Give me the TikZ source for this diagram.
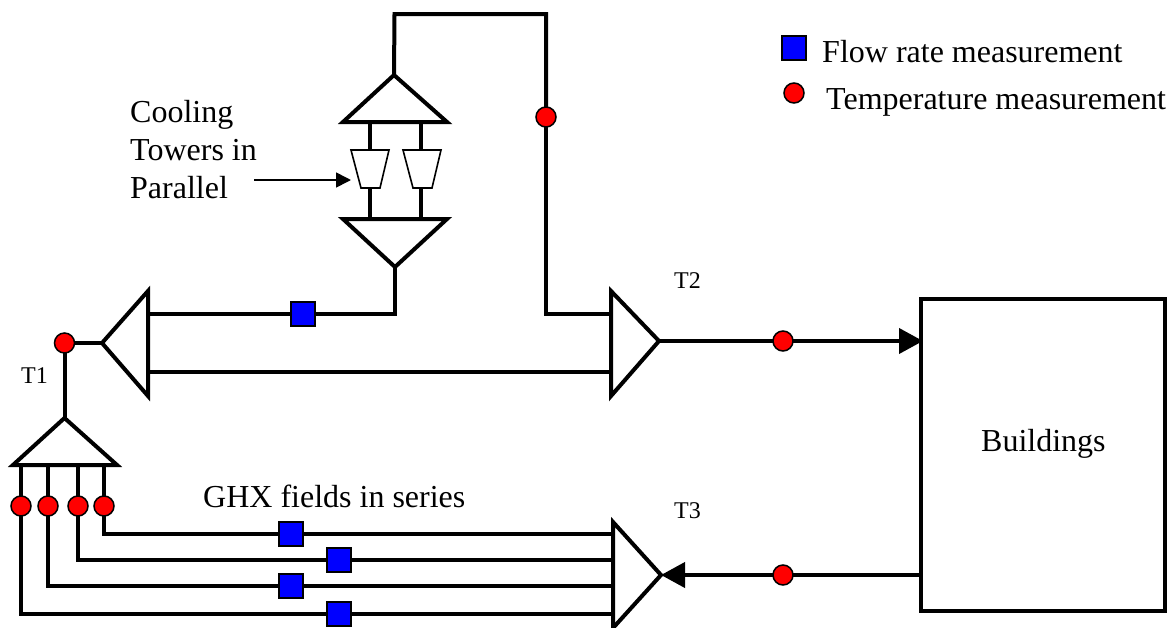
\documentclass[tikz,border=0pt]{standalone}
\usepackage{fontspec}
\setmainfont{Liberation Serif}
\usetikzlibrary{arrows.meta}
\tikzset{
  pipe/.style={line width=4pt, miter limit=20},
  thinpipe/.style={line width=1.6pt},
  flow/.style={draw=black, fill=blue, line width=1.5pt, minimum size=24pt, inner sep=0pt, outer sep=0pt},
  temp/.style={circle, draw=black, fill=red, line width=1.5pt, minimum size=20pt, inner sep=0pt, outer sep=0pt},
  bigarrow/.style={-{Triangle[length=24pt, width=25pt]}},
  bigtext/.style={font=\fontsize{32}{38}\selectfont, inner sep=0pt, anchor=base west},
  smalltext/.style={font=\fontsize{24}{28}\selectfont, inner sep=0pt, anchor=base west}
}
\begin{document}
\begin{tikzpicture}[x=1pt, y=-1pt, >=stealth]
  \useasboundingbox (0,0) rectangle (1173,627);

  % Legend
  \node[flow] (legflow) at (794,48) {};
  \node[temp] (legtemp) at (794,93) {};
  \node[bigtext] (legflowtext) at (822,62) {Flow rate measurement};
  \node[bigtext] (legtemptext) at (826,109) {Temperature measurement};

  % Labels
  \node[bigtext] (coolingtext) at (130,122) {Cooling};
  \node[bigtext] (towerstext) at (130,160) {Towers in};
  \node[bigtext] (paralleltext) at (130,198) {Parallel};
  \node[bigtext] (ghxtext) at (203,507) {GHX fields in series};
  \node[smalltext] (tone) at (21,383) {T1};
  \node[smalltext] (ttwo) at (674,288) {T2};
  \node[smalltext] (tthree) at (674,518) {T3};

  % Buildings
  \node[draw, line width=4pt, minimum width=244pt, minimum height=312pt, inner sep=0pt, outer sep=0pt] (buildings) at (1043,455) {};
  \node[bigtext] (buildingstext) at (981,451) {Buildings};

  % Splitters and mixers
  \coordinate (toptip) at (394,75);
  \coordinate (lowtip) at (395,267);
  \coordinate (lefttip) at (102,343);
  \coordinate (ghxtip) at (64.5,418);
  \coordinate (ttwotip) at (659,341);
  \coordinate (tthreetip) at (661,575);
  \draw[pipe] (toptip) -- (343,122) -- (447,122) -- cycle;
  \draw[pipe] (lowtip) -- (343,219) -- (447,219) -- cycle;
  \draw[pipe] (lefttip) -- (148,291) -- (148,396) -- cycle;
  \draw[pipe] (ghxtip) -- (13,465) -- (117,465) -- cycle;
  \draw[pipe] (ttwotip) -- (611,291) -- (611,396) -- cycle;
  \draw[pipe] (tthreetip) -- (613,522) -- (613,628) -- cycle;

  % Cooling towers
  \draw[thinpipe] (351,150) -- (389,150) -- (380,188) -- (361,188) -- cycle;
  \draw[thinpipe] (403,150) -- (441,150) -- (432,188) -- (413,188) -- cycle;
  \draw[pipe] (370,122) -- (370,150);
  \draw[pipe] (370,188) -- (370,219);
  \draw[pipe] (421,122) -- (421,150);
  \draw[pipe] (421,188) -- (421,219);

  % Pointer to the towers
  \coordinate (pointer) at (254,180);
  \coordinate (pointertip) at (351,180);
  \draw[thinpipe, -{Triangle[length=15pt, width=15pt]}] (pointer) -- (pointertip);

  % Measurements
  \node[temp] (toptemp) at (546,117) {};
  \node[flow] (lowflow) at (303,314) {};
  \node[temp] (tonetemp) at (64.5,343) {};
  \node[temp] (supply) at (783,341) {};
  \node[temp] (return) at (783,575) {};
  \node[temp] (ghxA) at (21,506) {};
  \node[temp] (ghxB) at (48,506) {};
  \node[temp] (ghxC) at (78,506) {};
  \node[temp] (ghxD) at (104,506) {};
  \node[flow] (fieldD) at (291,534) {};
  \node[flow] (fieldC) at (339,560) {};
  \node[flow] (fieldB) at (291,586) {};
  \node[flow] (fieldA) at (339,614) {};

  % Tower loop
  \coordinate (topleft) at (394.5,14);
  \coordinate (topright) at (546,14);
  \coordinate (ttwoin) at (611,314);
  \coordinate (lowcorner) at (395,314);
  \coordinate (leftin) at (148,314);
  \coordinate (leftback) at (148,372);
  \coordinate (ttwoback) at (611,372);
  \draw[pipe] (toptip) -- (topleft) -- (topright) -- (toptemp);
  \draw[pipe] (toptemp) |- (ttwoin);
  \draw[pipe] (lowtip) -- (lowcorner) -- (lowflow);
  \draw[pipe] (lowflow) -- (leftin);
  \draw[pipe] (leftback) -- (ttwoback);
  \draw[pipe] (lefttip) -- (tonetemp);
  \draw[pipe] (tonetemp) -- (ghxtip);

  % Buildings loop
  \draw[pipe] (ttwotip) -- (supply);
  \draw[pipe, bigarrow, shorten >=-2pt] (supply) -- (buildings.west |- supply);
  \draw[pipe] (buildings.west |- return) -- (return);
  \draw[pipe, bigarrow] (return) -- (tthreetip);

  % GHX fields
  \draw[pipe] (ghxA |- 0,465) -- (ghxA);
  \draw[pipe] (ghxB |- 0,465) -- (ghxB);
  \draw[pipe] (ghxC |- 0,465) -- (ghxC);
  \draw[pipe] (ghxD |- 0,465) -- (ghxD);
  \draw[pipe] (ghxD) |- (fieldD);
  \draw[pipe] (ghxC) |- (fieldC);
  \draw[pipe] (ghxB) |- (fieldB);
  \draw[pipe] (ghxA) |- (fieldA);
  \draw[pipe] (fieldD) -- (613,534);
  \draw[pipe] (fieldC) -- (613,560);
  \draw[pipe] (fieldB) -- (613,586);
  \draw[pipe] (fieldA) -- (613,614);
\end{tikzpicture}
\end{document}
